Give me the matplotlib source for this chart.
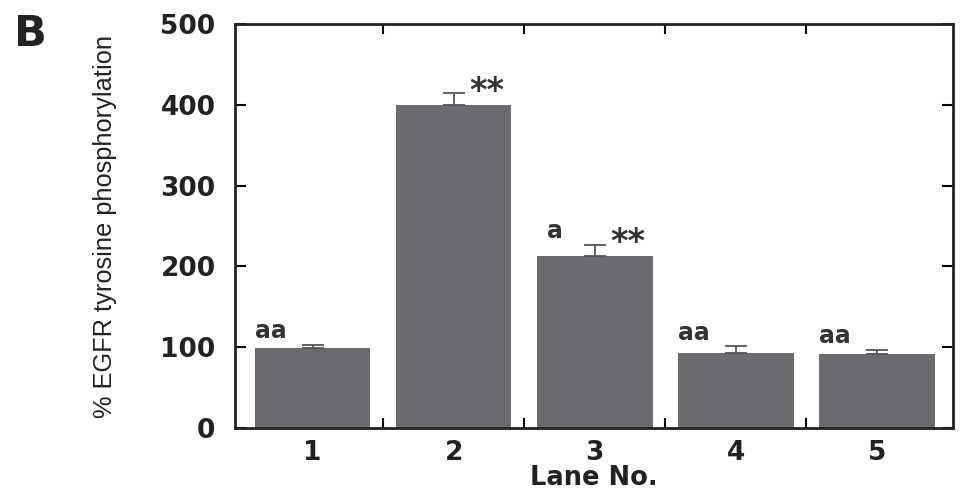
import numpy as np
import matplotlib.pyplot as plt

lanes = [1, 2, 3, 4, 5]
values = [99, 400, 213, 93, 92]
errors = [4, 14, 14, 8, 5]
labels_left = ['aa', '', 'a', 'aa', 'aa']
labels_right = ['', '**', '**', '', '']

fig = plt.figure(figsize=(9.61, 4.91), dpi=100)
ax = fig.add_axes([235 / 961, 1 - 428 / 491, (953 - 235) / 961, (428 - 24) / 491])

x = np.array(lanes)
ax.bar(x, values, width=0.82, color='#6c6c70', zorder=2)
ax.errorbar(x, values, yerr=[np.zeros(5), errors], fmt='none', ecolor='#555555',
            elinewidth=1.3, capsize=8, capthick=1.3, zorder=3)

bold = 'DejaVu Sans'
for xi, v, e, l, r in zip(x, values, errors, labels_left, labels_right):
    if l:
        dx = -0.41 if l == 'aa' else -0.34
        ax.text(xi + dx, v + e + 2, l, fontsize=17, fontweight='bold', ha='left',
                va='bottom', color='#333333', family=bold)
    if r:
        ax.text(xi + 0.11, v + e + 2, r, fontsize=24, fontweight='bold', ha='left',
                va='center', color='#333333', family=bold)

ax.set_xlim(0.45, 5.54)
ax.set_ylim(0, 500)
ax.set_yticks([0, 100, 200, 300, 400, 500])
ax.set_xticks(lanes)
ax.set_xticks([1.5, 2.5, 3.5, 4.5], minor=True)
ax.tick_params(axis='x', which='major', length=0, pad=9)
ax.tick_params(axis='x', which='minor', direction='in', length=7, width=1.5,
               top=True, bottom=True)
ax.tick_params(axis='y', direction='in', length=8, width=1.5, left=True, right=True, pad=14)
for lab in ax.get_xticklabels() + ax.get_yticklabels():
    lab.set_fontsize(19)
    lab.set_fontweight('bold')
    lab.set_family(bold)
    lab.set_color('#222222')
for s in ax.spines.values():
    s.set_linewidth(2)
    s.set_color('#222222')

ax.set_xlabel('Lane No.', fontsize=18.5, fontweight='bold', family=bold,
              labelpad=-1, color='#222222')
ax.set_ylabel('% EGFR tyrosine phosphorylation', fontsize=18.3,
              family='Liberation Sans', color='#222222')
ax.yaxis.set_label_coords(-0.164, 0.5)

fig.text(14 / 961, 1 - 46 / 491, 'B', fontsize=31, fontweight='bold',
         family=bold, color='#222222')

plt.savefig('out.png', dpi=100)
